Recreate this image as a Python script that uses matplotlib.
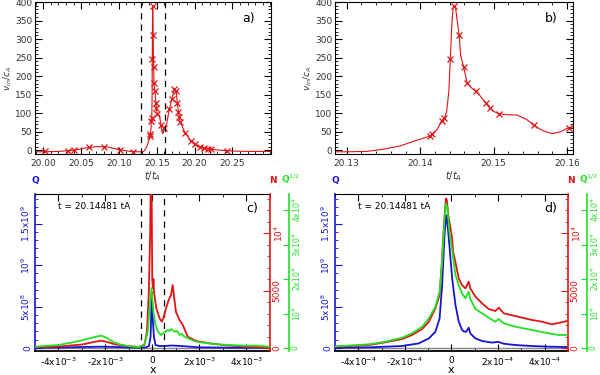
import matplotlib
matplotlib.use('Agg')
import numpy as np
import matplotlib.pyplot as plt
from matplotlib.ticker import MultipleLocator

# panels a/b: v_in/c_A against t/t_A (same curve, b is a zoom of a)
t_line = [19.99, 20.00, 20.02, 20.04, 20.055, 20.07, 20.085, 20.10, 20.115, 20.125,
          20.13, 20.1327, 20.135, 20.1373, 20.1395, 20.1413, 20.1416, 20.1423, 20.1429, 20.1433,
          20.1436, 20.1439, 20.1441, 20.1443, 20.1445, 20.1448, 20.145, 20.1453, 20.1455, 20.1459,
          20.1464, 20.147, 20.1476, 20.1482, 20.1489, 20.1495, 20.15, 20.1507, 20.1518, 20.1532,
          20.1545, 20.1555, 20.1568, 20.158, 20.1591, 20.1602, 20.1632, 20.1654, 20.1667, 20.1698,
          20.1733, 20.1755, 20.1773, 20.1786, 20.18, 20.1808, 20.1875, 20.1954, 20.2007, 20.2073,
          20.213, 20.2174, 20.2218, 20.235, 20.25, 20.27, 20.30]
v_line = [-4, -4, -3, 0, 6, 10, 9, 2, -3, -4,
          -4, -3, 3, 12, 27, 38, 43, 56, 79, 86,
          105, 159, 246, 337, 387, 387, 355, 311, 257, 226,
          181, 168, 159, 146, 128, 114, 105, 99, 96, 95,
          83, 67, 52, 45, 50, 61, 72, 97, 111, 138,
          165, 160, 127, 104, 90, 77, 47, 25, 16, 9,
          5, 4, 3, 0, -2, -3, -3]
t_mark = [20.002, 20.033, 20.041, 20.061, 20.080, 20.1015, 20.119,
          20.1413, 20.1416, 20.1429, 20.1433, 20.1441, 20.1446, 20.1453, 20.1459, 20.1464, 20.1476,
          20.1489, 20.1495, 20.1507, 20.1555, 20.1602,
          20.1667, 20.1698, 20.1733, 20.1755, 20.1773, 20.1786, 20.18, 20.1808, 20.1875, 20.1954,
          20.2007, 20.2073, 20.213, 20.2174, 20.2218, 20.243]
v_mark = [-3, -3, 0, 8, 9, 1, -4,
          38, 43, 79, 86, 246, 389, 311, 226, 181, 159,
          128, 114, 99, 67, 61,
          111, 138, 165, 160, 127, 104, 90, 77, 47, 25,
          16, 9, 5, 4, 3, -3]

# panel c: x in units of 1e-3, Q in 1e8, N, Q^1/2
xc_b = [-5.0, -4.0, -3.0, -2.2, -1.5, -1.0, -0.5, -0.3, -0.15, -0.08, -0.03, 0.01, 0.06, 0.13,
        0.3, 0.5, 0.8, 1.0, 1.5, 2.0, 3.0, 4.0, 5.0]
qc = [0.04, 0.06, 0.12, 0.16, 0.12, 0.07, 0.05, 0.06, 0.24, 1.4, 6.7, 3.6, 1.4, 0.36,
      0.24, 0.24, 0.3, 0.28, 0.18, 0.08, 0.05, 0.04, 0.04]
xc_r = [-5.0, -4.0, -3.0, -2.5, -2.2, -2.0, -1.6, -1.0, -0.6, -0.34, -0.24, -0.16, -0.1, -0.07,
        -0.04, -0.01, 0.02, 0.04, 0.07, 0.16, 0.3, 0.4, 0.48, 0.58, 0.69, 0.79, 0.86, 0.91,
        1.0, 1.15, 1.29, 1.5, 1.86, 2.43, 3.0, 4.0, 5.0]
nc = [60, 130, 300, 520, 635, 565, 320, 150, 90, 260, 1390, 4610, 9830, 15000,
      15000, 5900, 5200, 6000, 4800, 3480, 2580, 2290, 2720, 3480, 4180, 4610, 5480, 4610,
      3130, 2440, 2000, 980, 610, 410, 260, 110, 30]
xc_g = [-5.0, -4.0, -3.25, -2.8, -2.4, -2.18, -1.97, -1.69, -1.4, -0.98, -0.55, -0.34, -0.2,
        -0.16, -0.1, -0.04, 0.04, 0.13, 0.23, 0.37, 0.51, 0.65, 0.72, 0.79, 0.94, 1.05, 1.15,
        1.25, 1.36, 1.57, 1.86, 2.57, 3.28, 3.99, 4.4, 4.98]
gc = [380, 870, 1830, 2610, 3280, 3570, 2990, 1830, 1070, 490, 290, 1070, 4730,
      8700, 13900, 17400, 10440, 6670, 4730, 3770, 4550, 5220, 4930, 5510, 4730, 4930, 3770,
      4060, 3280, 2610, 1830, 1160, 870, 670, 700, 380]

# panel d: x in units of 1e-4
xd_b = [-4.97, -3.54, -2.12, -1.4, -0.97, -0.69, -0.51, -0.4, -0.3, -0.23, -0.19, -0.09, 0.03,
        0.17, 0.31, 0.45, 0.53, 0.63, 0.74, 0.81, 1.03, 1.31, 1.74, 2.0, 2.24, 2.74, 3.45, 4.17, 4.95]
qd = [0.04, 0.08, 0.24, 0.56, 1.16, 1.96, 3.56, 7.56, 13.5, 16.0, 15.6, 12.4, 8.4,
      5.2, 3.2, 2.2, 2.0, 1.95, 2.45, 1.75, 1.15, 0.85, 0.65, 0.75, 0.52, 0.36, 0.24, 0.16, 0.12]
xd_r = [-4.97, -3.54, -2.83, -2.12, -1.69, -1.26, -0.97, -0.69, -0.51, -0.43, -0.33, -0.24,
        -0.2, -0.14, -0.04, 0.03, 0.07, 0.17, 0.31, 0.45, 0.6, 0.74, 0.81, 1.03, 1.31, 1.6,
        1.88, 2.03, 2.24, 2.74, 3.45, 3.88, 4.31, 4.74, 4.95]
nd = [110, 260, 500, 780, 1130, 1650, 2290, 3450, 4610, 6930, 10400, 13000,
      12900, 11600, 10400, 9540, 8380, 7480, 6060, 5480, 5190, 5770, 5190, 4460, 3890, 3390,
      3220, 3510, 3020, 2780, 2440, 2290, 2060, 2240, 2350]
xd_g = [-4.97, -3.54, -2.83, -2.12, -1.69, -1.26, -0.97, -0.69, -0.51, -0.4, -0.3, -0.23,
        -0.17, -0.09, 0.03, 0.17, 0.31, 0.45, 0.6, 0.74, 0.81, 1.03, 1.31, 1.6, 1.88, 2.03,
        2.24, 2.74, 3.45, 4.17, 4.6, 4.95]
gd = [490, 1070, 1830, 2990, 4260, 6180, 8610, 11980, 16330, 25030, 37610, 41960,
      40510, 33730, 28420, 21170, 18270, 15860, 14410, 16330, 14210, 11310, 10060, 8790, 7630, 8410,
      7160, 6180, 5220, 4260, 3770, 3770]

BLUE = '#1414d2'
RED = '#e01414'
GREEN = '#22e022'
FS = 6.5

fig = plt.figure(figsize=(6, 3.75), dpi=100)


def top_panel(pos, xlim, xticks, xminor, tag):
    ax = fig.add_axes(pos)
    ax.plot(t_line, v_line, color=RED, lw=0.8)
    ax.plot(t_mark, v_mark, 'x', color=RED, ms=4, mew=0.9)
    ax.set_xlim(*xlim)
    ax.set_ylim(-10, 400)
    ax.set_xticks(xticks, ['%.2f' % v for v in xticks])
    ax.set_yticks(range(0, 401, 50))
    ax.xaxis.set_minor_locator(MultipleLocator(xminor))
    ax.yaxis.set_minor_locator(MultipleLocator(10))
    ax.tick_params(which='both', direction='in', top=True, right=True,
                   labelsize=FS, labelcolor='#333333')
    ax.tick_params(axis='y', pad=2)
    ax.tick_params(which='major', length=5)
    ax.tick_params(which='minor', length=2.5)
    ax.set_xlabel(r'$t/t_A$', fontsize=7, labelpad=1, color='#333333')
    ax.set_ylabel(r'$v_{in}/c_A$', fontsize=6.5, color='#333333', va='center')
    ax.yaxis.set_label_coords(-0.115, 0.5)
    ax.text(0.88, 0.87, tag, transform=ax.transAxes, fontsize=9)
    return ax


ax_a = top_panel([0.0583, 0.5893, 0.3933, 0.4053], (19.989, 20.301),
                 [20.00, 20.05, 20.10, 20.15, 20.20, 20.25], 0.01, 'a)')
for xv in (20.129, 20.1615):
    ax_a.axvline(xv, color='k', ls=(0, (5, 4)), lw=0.9)
top_panel([0.5583, 0.5893, 0.3967, 0.4053], (20.1284, 20.1608),
          [20.13, 20.14, 20.15, 20.16], 0.002, 'b)')


def bottom_panel(pos, scale, xq, q, xn, n, xg, g, tag, xt_labels, xminor):
    ax = fig.add_axes(pos)
    axn = ax.twinx()
    axg = ax.twinx()
    axg.spines['right'].set_position(('outward', 14))
    for a in (axn, axg):
        for s in ('left', 'top', 'bottom'):
            a.spines[s].set_visible(False)
    ax.spines['right'].set_visible(False)
    ax.spines['left'].set_color(BLUE)
    ax.spines['left'].set_linewidth(1.2)
    axn.spines['right'].set_color(RED)
    axn.spines['right'].set_linewidth(1.2)
    axg.spines['right'].set_color(GREEN)
    axg.spines['right'].set_linewidth(1.2)
    ax.spines['bottom'].set_linewidth(1.3)

    ax.axhline(0, color='#888888', lw=1.0, zorder=1)
    axg.plot(np.array(xg) * scale, g, color=GREEN, lw=1.3)
    axn.plot(np.array(xn) * scale, n, color=RED, lw=1.3)
    ax.plot(np.array(xq) * scale, np.array(q) * 1e8, color=BLUE, lw=1.3, zorder=3)

    ax.set_xlim(-5 * scale, 5 * scale)
    ax.set_ylim(-3.6e7, 1.856e9)
    axn.set_ylim(-261, 13400)
    axg.set_ylim(-870, 44660)

    ax.set_xticks([-4 * scale, -2 * scale, 0, 2 * scale, 4 * scale], xt_labels)
    ax.xaxis.set_minor_locator(MultipleLocator(xminor))
    ax.set_yticks([0, 5e8, 1e9, 1.5e9],
                  ['0', r'5x10$^8$', r'10$^9$', r'1.5x10$^9$'])
    ax.yaxis.set_minor_locator(MultipleLocator(1e8))
    axn.set_yticks([0, 5000, 10000], ['0', '5000', r'10$^4$'])
    axn.yaxis.set_minor_locator(MultipleLocator(1000))
    axg.set_yticks([0, 1e4, 2e4, 3e4, 4e4],
                   ['0', r'10$^4$', r'2x10$^4$', r'3x10$^4$', r'4x10$^4$'])

    ax.tick_params(axis='x', which='both', direction='in', top=True, labelsize=FS)
    ax.tick_params(axis='x', which='major', length=5)
    ax.tick_params(axis='x', which='minor', length=2.5)
    ax.tick_params(axis='y', which='both', direction='in', colors=BLUE,
                   labelsize=FS, labelrotation=90, pad=2)
    ax.tick_params(axis='y', which='major', length=5)
    ax.tick_params(axis='y', which='minor', length=2.5)
    axn.tick_params(axis='y', which='both', direction='in', colors=RED,
                    labelsize=FS, labelrotation=90, pad=2)
    axn.tick_params(axis='y', which='major', length=5)
    axn.tick_params(axis='y', which='minor', length=2.5)
    axg.tick_params(axis='y', direction='in', colors=GREEN, length=4,
                    labelsize=5.5, labelrotation=90, pad=0.8)
    for lab in ax.get_yticklabels() + axn.get_yticklabels() + axg.get_yticklabels():
        lab.set_verticalalignment('center')

    ax.set_xlabel('x', fontsize=8, va='center')
    ax.xaxis.set_label_coords(0.5, -0.12)
    ax.text(0.098, 0.905, 't = 20.14481 tA', transform=ax.transAxes, fontsize=6.5)
    ax.text(0.9, 0.885, tag, transform=ax.transAxes, fontsize=9)
    return ax


sc = 1e-3
ax_c = bottom_panel([0.0583, 0.064, 0.3917, 0.4187], sc, xc_b, qc, xc_r, nc, xc_g, gc, 'c)',
                    [r'-4x10$^{-3}$', r'-2x10$^{-3}$', '0', r'2x10$^{-3}$', r'4x10$^{-3}$'], 1e-3)
for xv in (-5e-4, 5e-4):
    ax_c.axvline(xv, color='k', ls=(0, (5, 4)), lw=0.9, zorder=4)
bottom_panel([0.5583, 0.064, 0.3883, 0.4187], 1e-4, xd_b, qd, xd_r, nd, xd_g, gd, 'd)',
             [r'-4x10$^{-4}$', r'-2x10$^{-4}$', '0', r'2x10$^{-4}$', r'4x10$^{-4}$'], 1e-4)

# colour keys for the three quantities above panels c and d
for x0, w in ((0.0583, 0.3917), (0.5583, 0.3883)):
    fig.text(x0, 0.512, 'Q', color=BLUE, fontsize=6.5, fontweight='bold', ha='center')
    fig.text(x0 + w + 0.005, 0.512, 'N', color=RED, fontsize=6.5, fontweight='bold', ha='center')
    fig.text(x0 + w + 0.018, 0.512, r'Q$^{1/2}$', color=GREEN, fontsize=6.5,
             fontweight='bold', ha='left')

fig.savefig('out.png', dpi=100)
